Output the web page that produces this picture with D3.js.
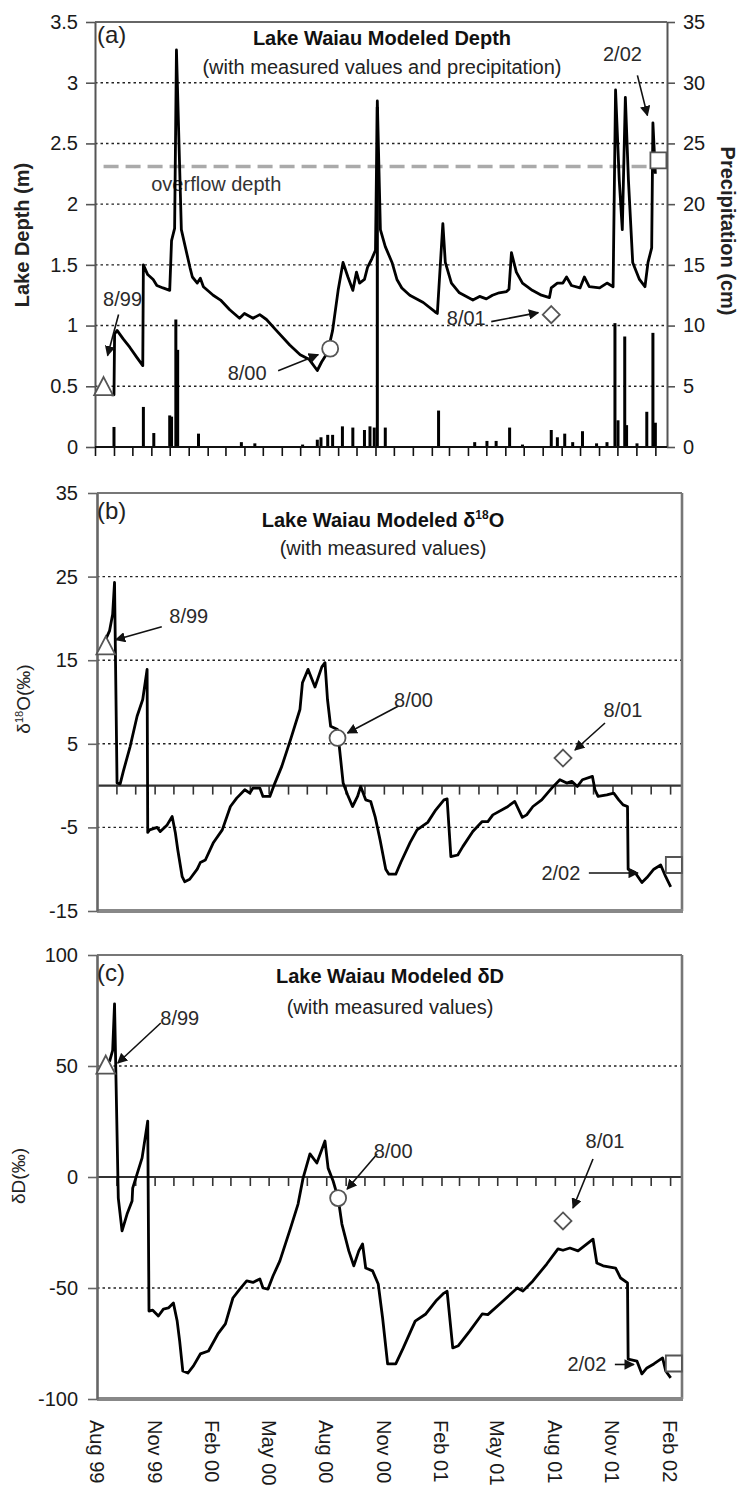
<!DOCTYPE html>
<html><head><meta charset="utf-8">
<script src="https://cdn.jsdelivr.net/npm/d3@7"></script>
<style>
body{margin:0;background:#fff}
svg text{font-family:"Liberation Sans",Arial,Helvetica,sans-serif}
</style>
</head><body>
<svg id="chart" width="743" height="1491"></svg>
<script>
// ---------------- DATA ----------------
const depthData = [
["1999-08-28",0.43],["1999-09-01",0.43],["1999-09-02",0.93],["1999-09-06",0.96],["1999-09-16",0.89],
["1999-09-27",0.82],["1999-10-08",0.74],["1999-10-18",0.67],["1999-10-19",1.50],["1999-10-26",1.42],
["1999-11-04",1.38],["1999-11-10",1.33],["1999-11-20",1.31],["1999-12-01",1.29],["1999-12-04",1.70],
["1999-12-09",1.80],["1999-12-12",3.27],["1999-12-20",1.79],["2000-01-03",1.48],["2000-01-07",1.40],
["2000-01-15",1.35],["2000-01-20",1.39],["2000-01-25",1.32],["2000-02-10",1.25],["2000-02-22",1.21],
["2000-03-08",1.13],["2000-03-24",1.06],["2000-04-01",1.10],["2000-04-15",1.06],["2000-04-26",1.09],
["2000-05-07",1.05],["2000-05-23",0.96],["2000-06-14",0.84],["2000-07-01",0.76],["2000-07-16",0.72],
["2000-07-29",0.63],["2000-08-05",0.70],["2000-08-15",0.78],["2000-08-23",0.96],["2000-09-01",1.29],
["2000-09-09",1.52],["2000-09-17",1.40],["2000-09-25",1.29],["2000-10-01",1.44],["2000-10-06",1.35],
["2000-10-14",1.38],["2000-10-19",1.48],["2000-10-26",1.55],["2000-11-01",1.62],["2000-11-04",2.85],
["2000-11-09",1.79],["2000-11-17",1.65],["2000-11-28",1.52],["2000-12-06",1.38],["2000-12-14",1.31],
["2000-12-27",1.25],["2001-01-18",1.19],["2001-02-07",1.11],["2001-02-10",1.10],["2001-02-19",1.84],
["2001-02-23",1.52],["2001-03-05",1.35],["2001-03-18",1.27],["2001-04-09",1.21],["2001-04-20",1.24],
["2001-05-01",1.22],["2001-05-11",1.25],["2001-05-22",1.27],["2001-06-03",1.28],["2001-06-07",1.30],
["2001-06-11",1.60],["2001-06-19",1.44],["2001-06-29",1.35],["2001-07-15",1.29],["2001-07-30",1.25],
["2001-08-12",1.23],["2001-08-15",1.31],["2001-08-25",1.35],["2001-09-03",1.35],["2001-09-09",1.40],
["2001-09-17",1.33],["2001-10-01",1.31],["2001-10-08",1.40],["2001-10-16",1.32],["2001-11-02",1.31],
["2001-11-14",1.35],["2001-11-24",1.32],["2001-11-28",2.94],["2001-12-04",2.20],["2001-12-09",1.79],
["2001-12-14",2.88],["2001-12-19",2.20],["2001-12-26",1.52],["2002-01-06",1.38],["2002-01-15",1.32],
["2002-01-20",1.52],["2002-01-26",1.64],["2002-01-28",2.67],["2002-02-01",2.25]
];
const precipData = [
["1999-09-01",1.65],["1999-10-19",3.3],["1999-11-05",1.15],["1999-12-01",2.6],["1999-12-04",2.5],
["1999-12-11",10.5],["1999-12-14",8.0],["2000-01-17",1.1],["2000-03-27",0.4],["2000-04-18",0.3],
["2000-07-05",0.2],["2000-07-29",0.6],["2000-08-04",0.8],["2000-08-15",1.0],["2000-08-23",1.0],
["2000-09-08",1.7],["2000-09-25",1.6],["2000-10-14",1.4],["2000-10-23",1.7],["2000-10-30",1.6],
["2000-11-04",28.0],["2000-11-17",1.6],["2001-02-12",3.0],["2001-04-12",0.4],["2001-05-02",0.5],
["2001-05-17",0.5],["2001-06-08",1.6],["2001-06-29",0.2],["2001-08-15",1.4],["2001-08-25",0.8],
["2001-09-06",1.1],["2001-09-19",0.4],["2001-10-05",1.3],["2001-10-28",0.3],["2001-11-14",0.4],
["2001-11-27",10.2],["2001-12-02",2.2],["2001-12-13",9.1],["2001-12-16",1.8],["2002-01-02",0.3],
["2002-01-18",2.9],["2002-01-28",9.4],["2002-02-01",2.0]
];
const d18OData = [
["1999-08-06",16.0],["1999-08-21",18.5],["1999-08-26",20.5],["1999-08-29",24.3],["1999-09-02",0.3],
["1999-09-07",0.2],["1999-09-12",1.7],["1999-09-23",4.7],["1999-10-04",8.3],["1999-10-13",10.3],
["1999-10-20",13.9],["1999-10-21",-5.6],["1999-10-24",-5.3],["1999-11-05",-5.0],["1999-11-10",-5.5],
["1999-11-21",-4.7],["1999-11-29",-3.7],["1999-12-04",-5.6],["1999-12-08",-7.7],["1999-12-15",-10.9],
["1999-12-19",-11.5],["1999-12-27",-11.2],["2000-01-08",-10.0],["2000-01-13",-9.2],["2000-01-21",-8.9],
["2000-02-03",-6.8],["2000-02-17",-5.3],["2000-03-01",-2.5],["2000-03-11",-1.5],["2000-03-24",-0.5],
["2000-04-01",-0.9],["2000-04-06",-0.3],["2000-04-17",-0.3],["2000-04-22",-1.3],["2000-05-03",-1.3],
["2000-05-11",0.3],["2000-05-22",2.3],["2000-06-05",5.5],["2000-06-20",9.1],["2000-06-24",12.3],
["2000-07-03",13.9],["2000-07-14",11.8],["2000-07-25",14.2],["2000-07-30",14.7],["2000-08-03",10.3],
["2000-08-08",7.1],["2000-08-19",6.7],["2000-08-28",0.3],["2000-09-04",-1.1],["2000-09-12",-2.5],
["2000-09-20",-1.3],["2000-09-25",-0.1],["2000-10-03",-1.7],["2000-10-11",-1.9],["2000-10-18",-3.7],
["2000-10-26",-6.5],["2000-11-04",-10.0],["2000-11-09",-10.6],["2000-11-20",-10.6],["2000-11-28",-9.2],
["2000-12-13",-6.8],["2000-12-24",-5.3],["2001-01-10",-4.4],["2001-01-23",-2.9],["2001-02-05",-1.7],
["2001-02-10",-1.6],["2001-02-16",-8.5],["2001-02-27",-8.3],["2001-03-07",-7.3],["2001-03-23",-5.5],
["2001-04-07",-4.3],["2001-04-16",-4.3],["2001-04-24",-3.5],["2001-05-16",-2.6],["2001-05-29",-1.9],
["2001-06-10",-3.8],["2001-06-17",-3.5],["2001-06-27",-2.5],["2001-07-11",-1.7],["2001-07-27",-0.3],
["2001-08-09",0.7],["2001-08-20",0.3],["2001-08-28",0.5],["2001-09-06",-0.1],["2001-09-14",0.7],
["2001-09-30",1.1],["2001-10-04",-0.5],["2001-10-09",-1.3],["2001-10-23",-1.1],["2001-11-03",-0.9],
["2001-11-11",-1.7],["2001-11-18",-2.3],["2001-11-25",-2.5],["2001-11-26",-10.0],["2001-12-07",-10.4],
["2001-12-18",-11.6],["2001-12-26",-11.0],["2002-01-06",-10.0],["2002-01-17",-9.5],["2002-01-25",-10.9],
["2002-02-02",-12.1]
];
const dDData = [
["1999-08-21",52],["1999-08-26",57],["1999-08-29",78],["1999-09-04",-9.5],["1999-09-10",-24.3],
["1999-09-18",-16.7],["1999-09-26",-10.8],["1999-09-27",-5],["1999-10-12",8.6],["1999-10-21",25.2],
["1999-10-23",-60.4],["1999-10-29",-60],["1999-11-07",-62.6],["1999-11-15",-59.5],["1999-11-23",-59],
["1999-12-01",-56.8],["1999-12-07",-64.9],["1999-12-11",-73.9],["1999-12-16",-87.4],["1999-12-24",-88.3],
["2000-01-02",-85.1],["2000-01-13",-79.7],["2000-01-26",-78.4],["2000-02-10",-70.7],["2000-02-22",-66.2],
["2000-03-05",-54.5],["2000-03-16",-50.5],["2000-03-27",-46.8],["2000-04-06",-47.5],["2000-04-17",-45.9],
["2000-04-22",-50],["2000-04-30",-50.5],["2000-05-08",-44.6],["2000-05-19",-37.8],["2000-06-05",-23],
["2000-06-17",-12.2],["2000-06-25",-0.5],["2000-07-06",10.4],["2000-07-17",6.3],["2000-07-30",16.2],
["2000-08-04",4],["2000-08-12",-1.8],["2000-08-20",-9.5],["2000-08-26",-21.2],["2000-09-06",-33.3],
["2000-09-14",-40],["2000-09-22",-33.3],["2000-09-28",-30.2],["2000-10-03",-41],["2000-10-14",-42.3],
["2000-10-23",-48.2],["2000-10-30",-63.5],["2000-11-07",-84.2],["2000-11-20",-84.2],["2000-12-02",-77],
["2000-12-21",-64.9],["2001-01-07",-61.7],["2001-01-23",-55.9],["2001-02-05",-52.3],["2001-02-10",-51.5],
["2001-02-19",-77],["2001-02-28",-76],["2001-03-18",-69.4],["2001-04-07",-61.7],["2001-04-16",-62],
["2001-05-05",-57.2],["2001-06-02",-50],["2001-06-11",-51.4],["2001-06-27",-46.8],["2001-07-19",-39.2],
["2001-08-06",-32.4],["2001-08-14",-33],["2001-08-25",-32],["2001-09-07",-33.3],["2001-10-01",-28],
["2001-10-07",-38.7],["2001-10-17",-40],["2001-11-06",-41],["2001-11-14",-45.5],["2001-11-25",-47.7],
["2001-11-26",-82],["2001-12-10",-82.9],["2001-12-18",-88.7],["2001-12-26",-86],["2002-01-06",-84.2],
["2002-01-20",-81.5],["2002-01-25",-87.4],["2002-02-02",-90.5]
];
const measuredDepth = [["8/99","1999-08-15",0.49],["8/00","2000-08-19",0.81],["8/01","2001-08-15",1.09],["2/02","2002-02-06",2.36]];
const measuredD18O  = [["8/99","1999-08-15",16.6],["8/00","2000-08-19",5.7],["8/01","2001-08-14",3.3],["2/02","2002-02-07",-9.5]];
const measuredDD    = [["8/99","1999-08-15",50],["8/00","2000-08-20",-9.5],["8/01","2001-08-14",-19.8],["2/02","2002-02-07",-84]];
const overflowDepth = 2.31;

const depthTicks  = [0,0.5,1,1.5,2,2.5,3,3.5];
const precipTicks = [0,5,10,15,20,25,30,35];
const d18OTicks   = [-15,-5,5,15,25,35];
const dDTicks     = [-100,-50,0,50,100];
const monthLabels = ["Aug 99","Nov 99","Feb 00","May 00","Aug 00","Nov 00","Feb 01","May 01","Aug 01","Nov 01","Feb 02"];
const labelDates  = ["1999-08-01","1999-11-01","2000-02-01","2000-05-01","2000-08-01","2000-11-01","2001-02-01","2001-05-01","2001-08-01","2001-11-01","2002-02-01"];

// ---------------- LAYOUT / STYLE ----------------
const parse = d3.timeParse("%Y-%m-%d");
const xDomain = [parse("1999-08-01"), parse("2002-02-20")];
const monthTicks = d3.timeMonth.range(parse("1999-08-01"), parse("2002-02-02"));
const FONT = 20;
const markerShapes = ["triangle","circle","diamond","square"];
const annotA = [
  {label:[19,-89], from:[15,-73], to:[4,-32]},
  {label:[-83,24], from:[-52,22], to:[-12,6]},
  {label:[-85,3],  from:[-60,7],  to:[-13,-2]},
  {label:[-36,-106], from:[-21,-85], to:[-11,-45]}];
const annotB = [
  {label:[83,-31], from:[56,-20], to:[10,-7]},
  {label:[76,-38], from:[61,-32], to:[10,-5]},
  {label:[60,-48], from:[42,-35], to:[12,-8]},
  {label:[-113,8], from:[-85,8], to:[-36,8]}];
const annotC = [
  {label:[74,-48], from:[55,-43], to:[12,-3]},
  {label:[55,-47], from:[39,-44], to:[9,-9]},
  {label:[42,-80], from:[30,-62], to:[10,-13]},
  {label:[-87,1],  from:[-59,1],  to:[-40,1]}];

const svg = d3.select("#chart");
const defs = svg.append("defs");
defs.append("marker").attr("id","ah").attr("viewBox","0 0 10 10").attr("refX",9).attr("refY",5)
  .attr("markerWidth",6.5).attr("markerHeight",6.5).attr("orient","auto")
  .append("path").attr("d","M0,0L10,5L0,10z").attr("fill","#111");

function markerPath(shape, s){
  switch(shape){
    case "triangle": return `M0,${-s*0.58}L${s*0.52},${s*0.42}L${-s*0.52},${s*0.42}Z`;
    case "circle": return d3.symbol(d3.symbolCircle, Math.PI*(s/2)*(s/2))();
    case "diamond": return `M0,${-s/2}L${s/2},0L0,${s/2}L${-s/2},0Z`;
    default: return `M${-s/2},${-s/2}h${s}v${s}h${-s}Z`;
  }
}

function styleAxis(g, color){
  g.selectAll("path.domain").attr("stroke",color).attr("stroke-width",2);
  g.selectAll(".tick line").attr("stroke",color).attr("stroke-width",1.6);
  g.selectAll(".tick text").attr("font-size",FONT).attr("fill","#1a1a1a")
    .attr("font-family","'Liberation Sans',Arial,sans-serif");
}

function hgrid(g, vals, x, y){
  g.selectAll(null).data(vals).enter().append("line")
    .attr("x1",x.range()[0]).attr("x2",x.range()[1])
    .attr("y1",d=>y(d)).attr("y2",d=>y(d))
    .attr("stroke","#222").attr("stroke-width",1.4).attr("stroke-dasharray","2.5,3");
}

function drawLine(g, data, x, y, clipId){
  g.append("path").datum(data).attr("fill","none").attr("stroke","#000")
    .attr("stroke-width",2.8).attr("stroke-linejoin","round")
    .attr("clip-path",`url(#${clipId})`)
    .attr("d", d3.line().x(d=>x(parse(d[0]))).y(d=>y(d[1])));
}

function clip(id, L){
  defs.append("clipPath").attr("id",id).append("rect")
    .attr("x",L.left).attr("y",L.top).attr("width",L.right-L.left).attr("height",L.bottom-L.top);
}

function measured(g, data, x, y, annots, sizes){
  data.forEach((d,i)=>{
    const px = x(parse(d[1])), py = y(d[2]);
    const a = annots[i];
    g.append("line").attr("x1",px+a.from[0]).attr("y1",py+a.from[1])
      .attr("x2",px+a.to[0]).attr("y2",py+a.to[1])
      .attr("stroke","#111").attr("stroke-width",1.6).attr("marker-end","url(#ah)");
    g.append("text").attr("x",px+a.label[0]).attr("y",py+a.label[1]).attr("dy","0.35em")
      .attr("text-anchor","middle").attr("font-size",FONT).attr("fill","#2a2a2a").text(d[0]);
    g.append("path").attr("transform",`translate(${px},${py})`)
      .attr("d", markerPath(markerShapes[i], sizes[i]))
      .attr("fill","#fff").attr("stroke","#555").attr("stroke-width",1.8);
  });
}

function titles(g, cx, y1, y2, main, sub, tag, tx, ty){
  main(g.append("text").attr("x",cx).attr("y",y1).attr("text-anchor","middle")
    .attr("font-size",FONT).attr("font-weight","bold").attr("fill","#111"));
  g.append("text").attr("x",cx).attr("y",y2).attr("text-anchor","middle")
    .attr("font-size",FONT).attr("fill","#222").text(sub);
  g.append("text").attr("x",tx).attr("y",ty).attr("font-size",24).attr("fill","#222").text(tag);
}

// ---------------- PANEL (a) ----------------
{
  const L = {left:95,right:667,top:22,bottom:447};
  const g = svg.append("g");
  clip("clipA", L);
  const x = d3.scaleTime().domain(xDomain).range([L.left,L.right]);
  const y = d3.scaleLinear().domain([0,3.5]).range([L.bottom,L.top]);
  const yp = d3.scaleLinear().domain([0,35]).range([L.bottom,L.top]);

  hgrid(g, depthTicks.filter(v=>v>0 && v<3.5), x, y);
  g.append("line").attr("x1",L.left).attr("x2",L.right).attr("y1",L.top).attr("y2",L.top).attr("stroke","#666").attr("stroke-width",2);

  // overflow depth
  g.append("line").attr("x1",x(parse("1999-08-15"))).attr("x2",L.right-2)
    .attr("y1",y(overflowDepth)).attr("y2",y(overflowDepth))
    .attr("stroke","#aaa").attr("stroke-width",3.5).attr("stroke-dasharray","15,7");
  g.append("text").attr("x",x(parse("2000-02-15"))).attr("y",y(overflowDepth)+17).attr("dy","0.35em")
    .attr("text-anchor","middle").attr("font-size",FONT).attr("fill","#333").text("overflow depth");

  // precipitation bars
  g.selectAll(null).data(precipData).enter().append("rect")
    .attr("x",d=>x(parse(d[0]))-1.5).attr("width",3)
    .attr("y",d=>yp(d[1])).attr("height",d=>yp(0)-yp(d[1])).attr("fill","#000");

  drawLine(g, depthData, x, y, "clipA");

  const ax = g.append("g").attr("transform",`translate(${L.left},0)`)
    .call(d3.axisLeft(y).tickValues(depthTicks).tickSize(9).tickSizeOuter(0).tickPadding(8).tickFormat(d=>String(d)));
  styleAxis(ax,"#555");
  const ar = g.append("g").attr("transform",`translate(${L.right},0)`)
    .call(d3.axisRight(yp).tickValues(precipTicks).tickSize(8).tickSizeOuter(0).tickPadding(8).tickFormat(d=>String(d)));
  styleAxis(ar,"#555");
  const ab = g.append("g").attr("transform",`translate(0,${L.bottom})`)
    .call(d3.axisBottom(x).tickValues(monthTicks).tickSize(9).tickSizeOuter(0).tickFormat(""));
  styleAxis(ab,"#111");
  ab.select("path.domain").attr("d",`M${L.left},0H${L.right}`);

  measured(g, measuredDepth, x, y, annotA, [18,16,17,16]);

  titles(g, 382, 45, 74, t=>t.text("Lake Waiau Modeled Depth"),
    "(with measured values and precipitation)", "(a)", 97, 43);

  g.append("text").attr("transform","translate(22,235) rotate(-90)").attr("dy","0.35em")
    .attr("text-anchor","middle").attr("font-size",FONT).attr("font-weight","bold").attr("fill","#222")
    .text("Lake Depth (m)");
  g.append("text").attr("transform","translate(728,231) rotate(90)").attr("dy","0.35em")
    .attr("text-anchor","middle").attr("font-size",FONT).attr("font-weight","bold").attr("fill","#222")
    .text("Precipitation (cm)");
}

// ---------------- PANEL (b) / (c) helper ----------------
function isoPanel(L, domain, ticks, grid, data, meas, annots, clipId){
  const g = svg.append("g");
  clip(clipId, L);
  const x = d3.scaleTime().domain(xDomain).range([L.left,L.right]);
  const y = d3.scaleLinear().domain(domain).range([L.bottom,L.top]);
  hgrid(g, grid, x, y);
  const az = g.append("g").attr("transform",`translate(0,${y(0)})`)
    .call(d3.axisBottom(x).tickValues(monthTicks.slice(1)).tickSize(9).tickSizeOuter(0).tickFormat(""));
  styleAxis(az,"#333");
  az.select("path.domain").attr("d",`M${L.left},0H${L.right}`).attr("stroke-width",2.2);
  g.append("line").attr("x1",L.left).attr("x2",L.right).attr("y1",L.top).attr("y2",L.top).attr("stroke","#777").attr("stroke-width",2.2);
  g.append("line").attr("x1",L.right).attr("x2",L.right).attr("y1",L.top).attr("y2",L.bottom).attr("stroke","#777").attr("stroke-width",2.6);
  g.append("line").attr("x1",L.left).attr("x2",L.right+1).attr("y1",L.bottom).attr("y2",L.bottom).attr("stroke","#888").attr("stroke-width",4);

  drawLine(g, data, x, y, clipId);

  const ax = g.append("g").attr("transform",`translate(${L.left},0)`)
    .call(d3.axisLeft(y).tickValues(ticks).tickSize(9).tickSizeOuter(0).tickPadding(10).tickFormat(d=>String(d)));
  styleAxis(ax,"#666");
  ax.select("path.domain").attr("stroke-width",2.6);
  measured(g, meas, x, y, annots, [18,16,17,16]);
  return {g,x,y};
}

// ---------------- PANEL (b) ----------------
{
  const L = {left:97,right:682,top:493,bottom:911};
  const {g} = isoPanel(L, [-15,35], d18OTicks, [-5,5,15,25], d18OData, measuredD18O, annotB, "clipB");
  titles(g, 383, 527, 555, t=>{
      t.append("tspan").text("Lake Waiau Modeled δ");
      t.append("tspan").attr("font-size",12).attr("dy",-8).text("18");
      t.append("tspan").attr("dy",8).text("O");
    }, "(with measured values)", "(b)", 97, 519);
  const lab = g.append("text").attr("transform","translate(23,699) rotate(-90)").attr("dy","0.35em")
    .attr("text-anchor","middle").attr("font-size",19).attr("fill","#222");
  lab.append("tspan").text("δ");
  lab.append("tspan").attr("font-size",11).attr("dy",-7).text("18");
  lab.append("tspan").attr("dy",7).text("O(‰)");
}

// ---------------- PANEL (c) ----------------
{
  const L = {left:97,right:682,top:955,bottom:1399};
  const {g,x} = isoPanel(L, [-100,100], dDTicks, [-50,50], dDData, measuredDD, annotC, "clipC");
  titles(g, 390, 983, 1014, t=>t.text("Lake Waiau Modeled δD"),
    "(with measured values)", "(c)", 97, 981);
  g.append("text").attr("transform","translate(18,1176) rotate(-90)").attr("dy","0.35em")
    .attr("text-anchor","middle").attr("font-size",19).attr("fill","#222").text("δD(‰)");
  g.selectAll(null).data(monthLabels).enter().append("text")
    .attr("transform",(d,i)=>`translate(${x(parse(labelDates[i]))},1420) rotate(90)`)
    .attr("dy","0.35em").attr("text-anchor","start").attr("font-size",FONT).attr("fill","#1a1a1a")
    .text(d=>d);
}
</script>
</body></html>
